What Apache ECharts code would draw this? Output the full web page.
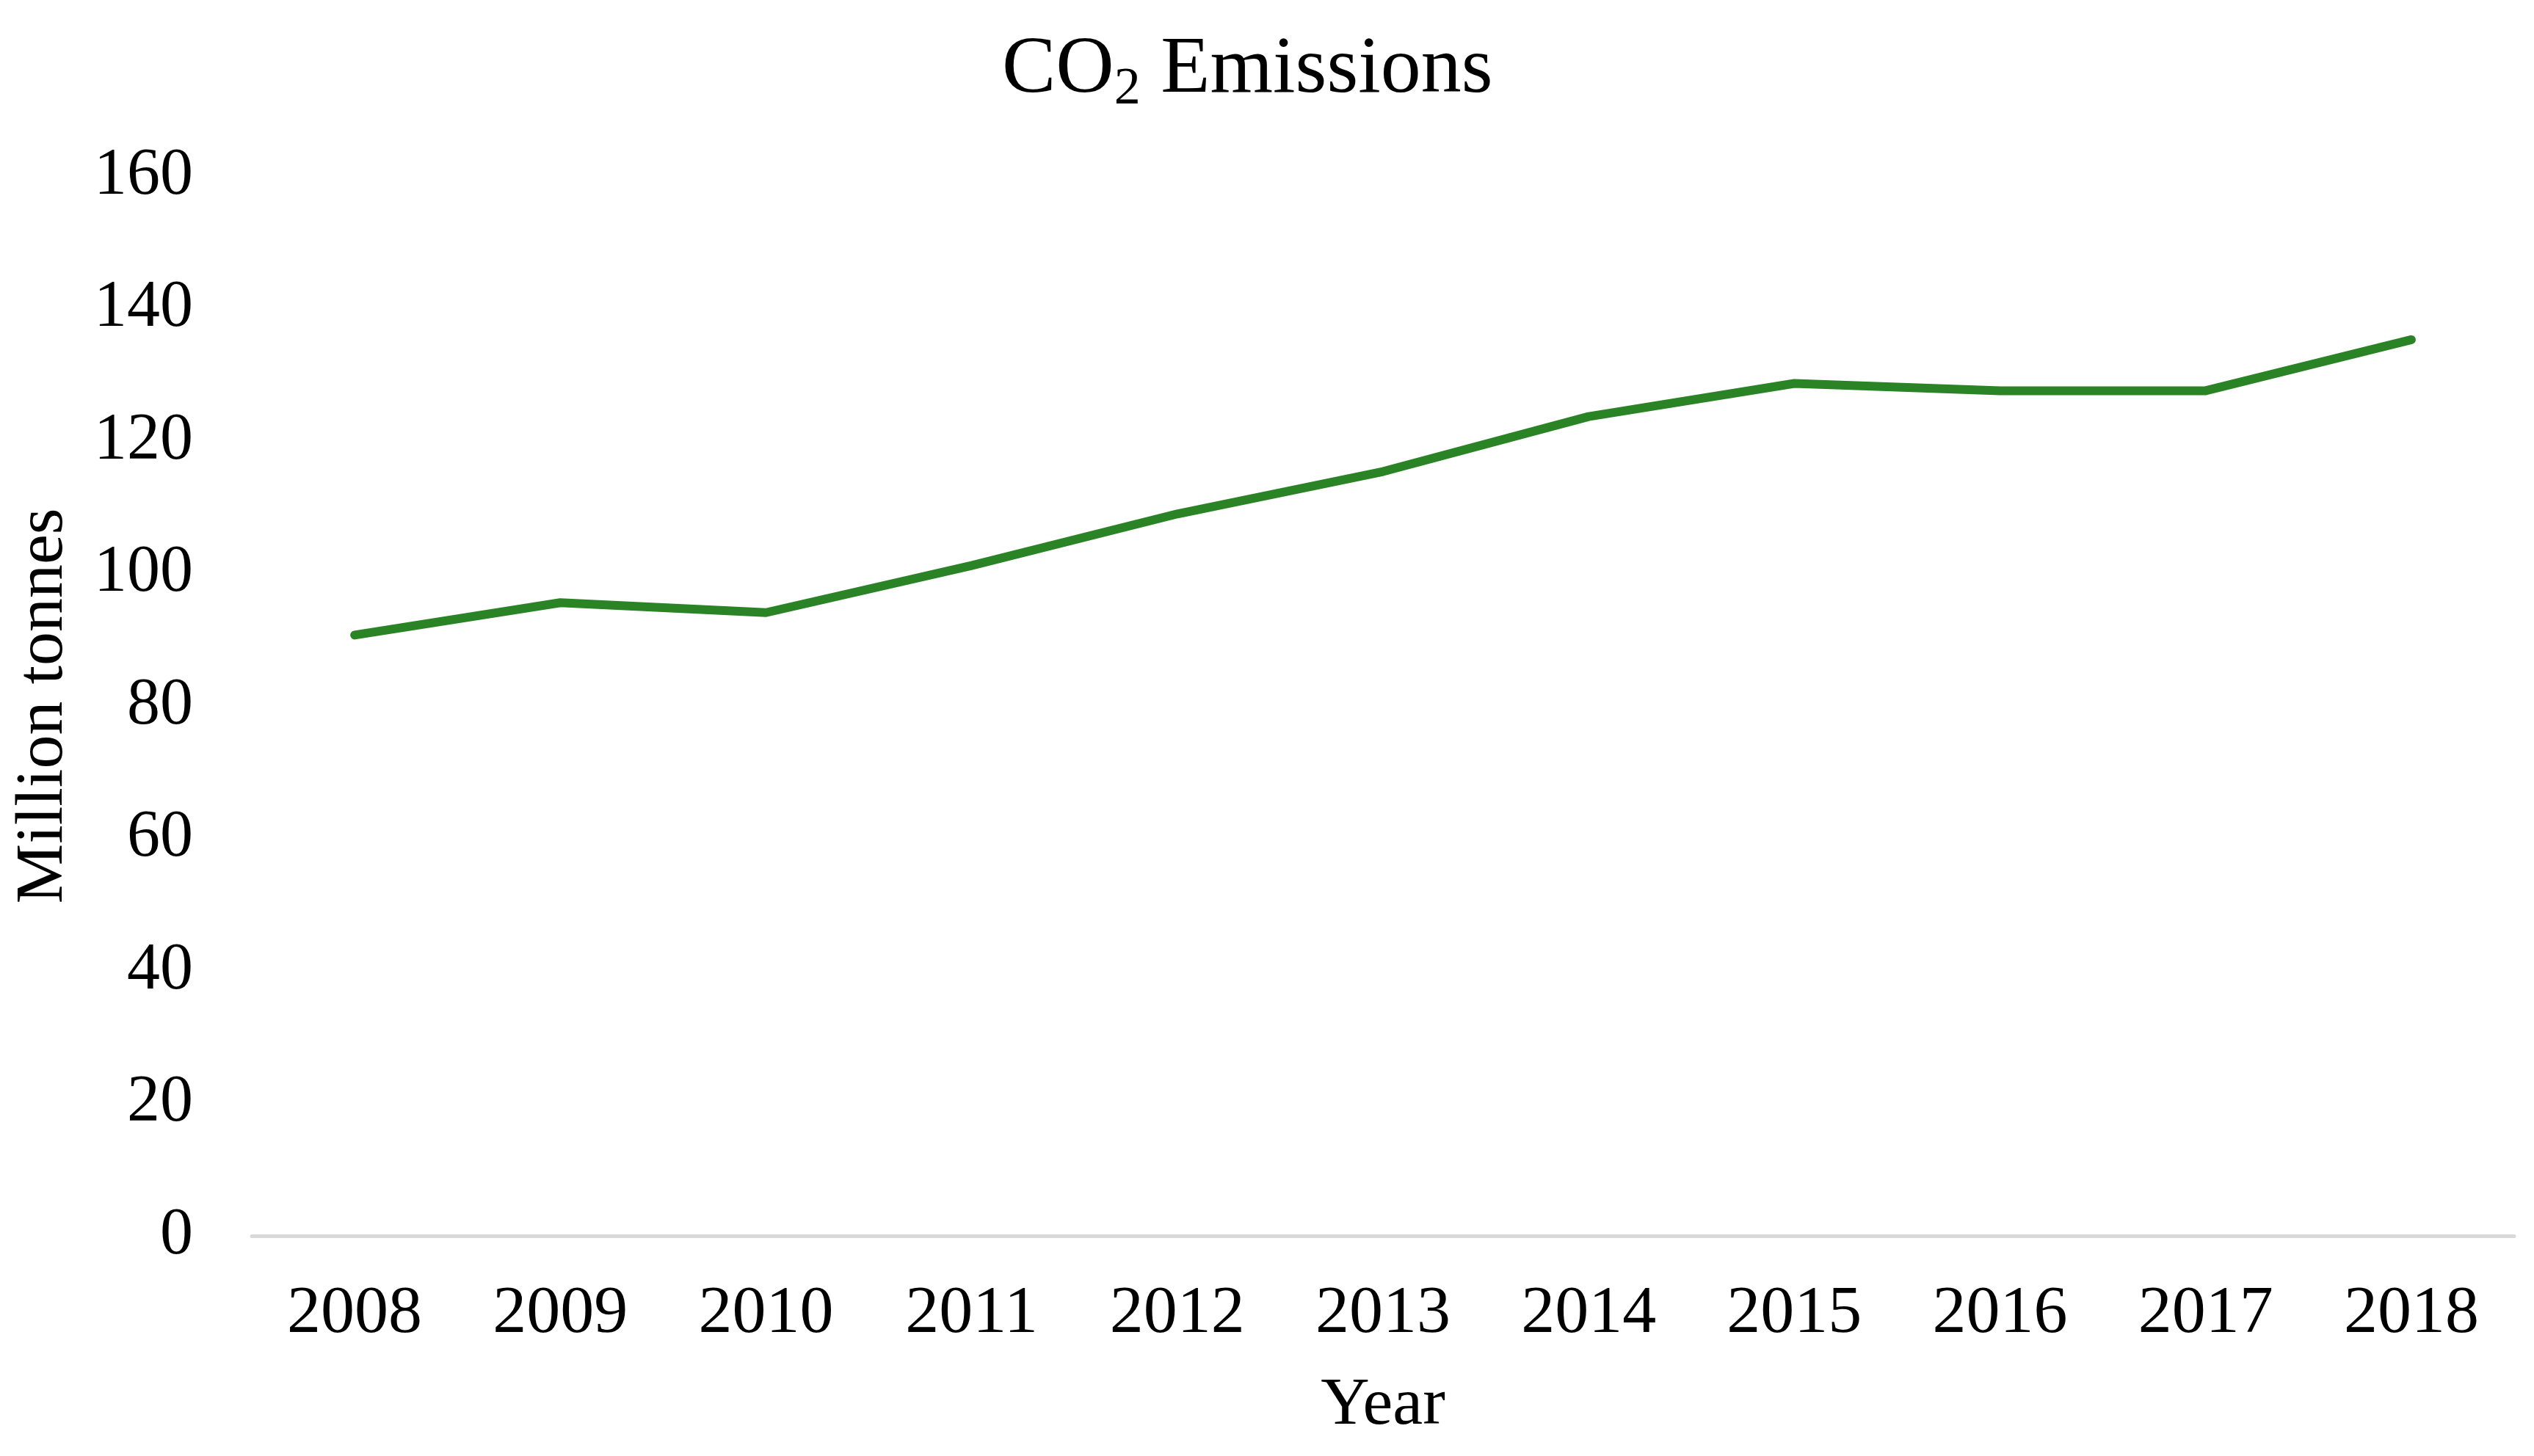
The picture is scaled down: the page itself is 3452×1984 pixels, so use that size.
<!DOCTYPE html>
<html>
<head>
<meta charset="utf-8">
<style>
  html, body { margin: 0; padding: 0; background: #ffffff; }
  #chart { width: 3452px; height: 1984px; }
</style>
<script src="https://cdn.jsdelivr.net/npm/echarts@6/dist/echarts.min.js"></script>
</head>
<body>
<div id="chart"></div>
<script>
const years = ['2008','2009','2010','2011','2012','2013','2014','2015','2016','2017','2018'];
const emissions = [90.7, 95.6, 94.1, 101.2, 109.0, 115.4, 123.7, 128.7, 127.6, 127.6, 135.3];
const yTicks = { min: 0, max: 160, interval: 20 };

const FONT = "'Liberation Serif', 'Times New Roman', serif";
const chart = echarts.init(document.getElementById('chart'), null, { renderer: 'canvas' });

chart.setOption({
  backgroundColor: '#ffffff',
  animation: false,
  title: {
    text: 'CO{sub|2} Emissions',
    left: 1360,
    top: 29,
    textStyle: {
      fontFamily: FONT,
      fontSize: 110,
      fontWeight: 'normal',
      color: '#000000',
      lineHeight: 124,
      rich: {
        sub: {
          fontFamily: FONT,
          fontSize: 72,
          color: '#000000',
          lineHeight: 50,
          verticalAlign: 'bottom'
        }
      }
    }
  },
  grid: {
    left: 343,
    right: 27,
    top: 240,
    bottom: 300,
    containLabel: false
  },
  xAxis: {
    type: 'category',
    data: years,
    boundaryGap: true,
    name: 'Year',
    nameLocation: 'middle',
    nameGap: 186,
    nameTextStyle: { fontFamily: FONT, fontSize: 92, color: '#000000' },
    axisLine: { show: true, lineStyle: { color: '#d9d9d9', width: 5 } },
    axisTick: { show: false },
    axisLabel: { fontFamily: FONT, fontSize: 92, color: '#000000', margin: 61 },
    splitLine: { show: false }
  },
  yAxis: {
    type: 'value',
    min: yTicks.min,
    max: yTicks.max,
    interval: yTicks.interval,
    name: 'Million tonnes',
    nameLocation: 'middle',
    nameGap: 237,
    nameRotate: 90,
    nameTextStyle: { fontFamily: FONT, fontSize: 92, color: '#000000' },
    axisLine: { show: false },
    axisTick: { show: false },
    axisLabel: { fontFamily: FONT, fontSize: 90, color: '#000000', margin: 80 },
    splitLine: { show: false }
  },
  series: [{
    type: 'line',
    data: emissions,
    symbol: 'none',
    smooth: false,
    lineStyle: { color: '#2a8325', width: 12, cap: 'round', join: 'round' },
    itemStyle: { color: '#2a8325' }
  }]
});
</script>
</body>
</html>
